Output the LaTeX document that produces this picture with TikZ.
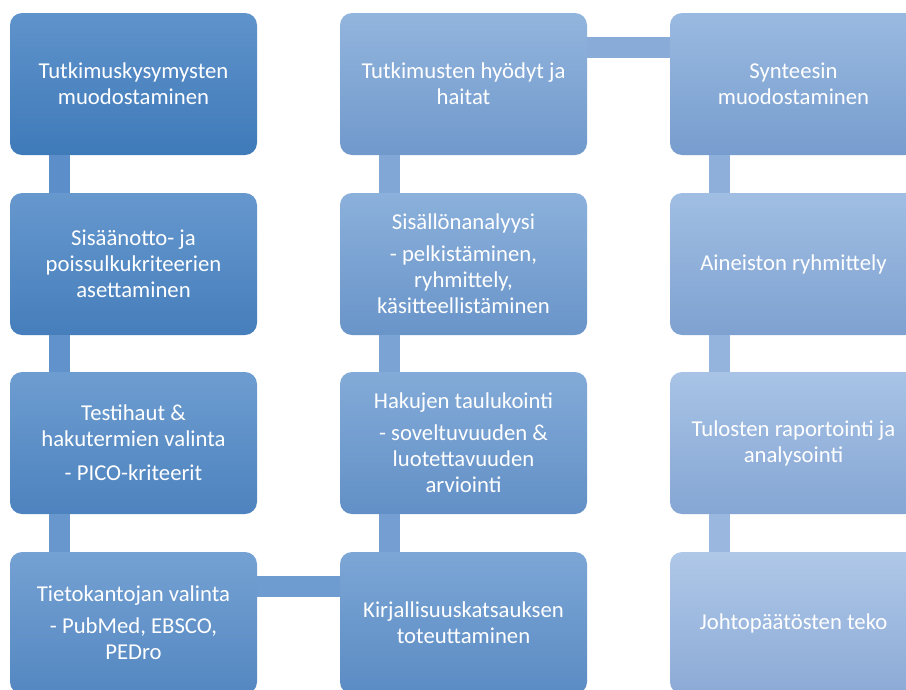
\documentclass[tikz,border=0pt]{standalone}
\usepackage{fontspec}
\setmainfont{Carlito}
\definecolor{topDark}{RGB}{95,147,203}
\definecolor{botDark}{RGB}{63,122,185}
\definecolor{topLight}{RGB}{175,200,232}
\definecolor{botLight}{RGB}{140,170,214}
\definecolor{barDark}{RGB}{88,140,200}
\definecolor{barLight}{RGB}{158,186,224}
\tikzset{
  stepbox/.style={rounded corners=12pt, minimum width=247pt, minimum height=142pt,
    inner sep=0pt, align=center, text=white,
    font=\fontsize{22.7}{26}\selectfont,
    top color=topLight!#1!topDark, bottom color=botLight!#1!botDark},
  bar/.style={line width=21pt, draw=barLight!#1!barDark}
}
\begin{document}
\begin{tikzpicture}[x=1pt, y=-1pt]
  \useasboundingbox (0,0) rectangle (906,689);
  \clip (0,0) rectangle (906,689);
  \fill[white] (0,0) rectangle (906,689);
  % first column
  \node[stepbox=0]  (tutk)        at (133.5,84)  {Tutkimuskysymysten\\muodostaminen};
  \node[stepbox=9]  (kriteerit)   at (133.5,264) {Sisäänotto- ja\\poissulkukriteerien\\asettaminen};
  \node[stepbox=18] (testihaut)   at (133.5,443) {Testihaut \&\\hakutermien valinta\\[8pt]- PICO-kriteerit};
  \node[stepbox=27] (tietokannat) at (133.5,623) {Tietokantojan valinta\\[6pt]- PubMed, EBSCO,\\PEDro};
  % second column
  \node[stepbox=36] (toteutus)    at (463.5,623) {Kirjallisuuskatsauksen\\toteuttaminen};
  \node[stepbox=45] (taulukointi) at (463.5,443) {Hakujen taulukointi\\[6pt]- soveltuvuuden \&\\luotettavuuden\\arviointi};
  \node[stepbox=55] (analyysi)    at (463.5,264) {Sisällönanalyysi\\[6pt]- pelkistäminen,\\ryhmittely,\\käsitteellistäminen};
  \node[stepbox=64] (hyodyt)      at (463.5,84)  {Tutkimusten hyödyt ja\\haitat};
  % third column
  \node[stepbox=73]  (synteesi)       at (793.5,84)  {Synteesin\\muodostaminen};
  \node[stepbox=82]  (ryhmittely)     at (793.5,264) {Aineiston ryhmittely};
  \node[stepbox=91]  (raportointi)    at (793.5,443) {Tulosten raportointi ja\\analysointi};
  \node[stepbox=100] (johtopaatokset) at (793.5,623) {Johtopäätösten teko};
  % connecting bars
  \draw[bar=5]  ([xshift=50pt]tutk.south west) -- ([xshift=50pt]kriteerit.north west);
  \draw[bar=14] ([xshift=50pt]kriteerit.south west) -- ([xshift=50pt]testihaut.north west);
  \draw[bar=23] ([xshift=50pt]testihaut.south west) -- ([xshift=50pt]tietokannat.north west);
  \draw[bar=32] ([yshift=-34.5pt]tietokannat.north east) -- ([yshift=-34.5pt]toteutus.north west);
  \draw[bar=41] ([xshift=50pt]toteutus.north west) -- ([xshift=50pt]taulukointi.south west);
  \draw[bar=50] ([xshift=50pt]taulukointi.north west) -- ([xshift=50pt]analyysi.south west);
  \draw[bar=59] ([xshift=50pt]analyysi.north west) -- ([xshift=50pt]hyodyt.south west);
  \draw[bar=68] ([yshift=-34.5pt]hyodyt.north east) -- ([yshift=-34.5pt]synteesi.north west);
  \draw[bar=77] ([xshift=50pt]synteesi.south west) -- ([xshift=50pt]ryhmittely.north west);
  \draw[bar=86] ([xshift=50pt]ryhmittely.south west) -- ([xshift=50pt]raportointi.north west);
  \draw[bar=95] ([xshift=50pt]raportointi.south west) -- ([xshift=50pt]johtopaatokset.north west);
\end{tikzpicture}
\end{document}
